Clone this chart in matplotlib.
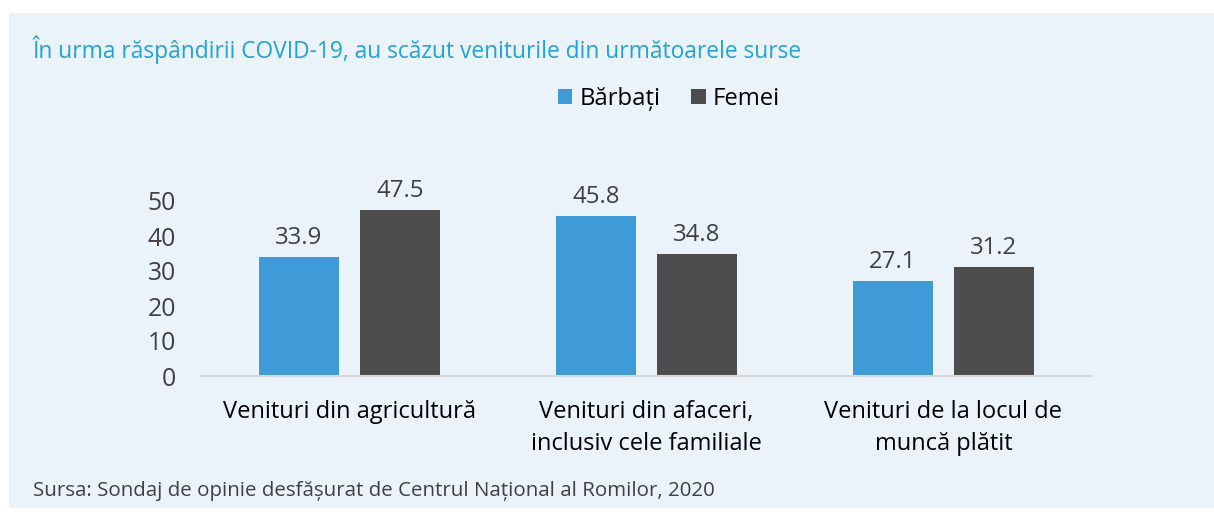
import matplotlib
matplotlib.use("Agg")
import matplotlib.pyplot as plt

categories = ["Venituri din agricultură", "Venituri din afaceri,\ninclusiv cele familiale", "Venituri de la locul de\nmuncă plătit"]
barbati = [33.9, 45.8, 27.1]
femei = [47.5, 34.8, 31.2]
series_names = ["Bărbați", "Femei"]
yticks = [0, 10, 20, 30, 40, 50]
title = "În urma răspândirii COVID-19, au scăzut veniturile din următoarele surse"
source = "Sursa: Sondaj de opinie desfășurat de Centrul Național al Romilor, 2020"

W, H = 1214, 515
BG = "#EAF2FA"
BLUE = "#3F9BD8"
DARK = "#4D4D4F"
TXT = "#404040"
plt.rcParams['font.family'] = ['Open Sans', 'DejaVu Sans']

fig = plt.figure(figsize=(W/100, H/100), dpi=100)
fig.patch.set_facecolor("white")
bg = fig.add_axes([9/W, 1-508/H, (W-9)/W, (508-13)/H], zorder=-10)
bg.set_facecolor(BG)
bg.set_xticks([]); bg.set_yticks([])
for s in bg.spines.values():
    s.set_visible(False)

ymax = 55
ax = fig.add_axes([201/W, 1-376/H, 891/W, (3.5*ymax)/H])
ax.set_facecolor("none")
x = list(range(len(categories)))
bw = 80/297
off = 50.5/297
b1 = ax.bar([i-off for i in x], barbati, bw, color=BLUE, label=series_names[0])
b2 = ax.bar([i+off for i in x], femei, bw, color=DARK, label=series_names[1])
for bars, vals in ((b1, barbati), (b2, femei)):
    for r, v in zip(bars, vals):
        ax.annotate(f"{v:.1f}", (r.get_x()+r.get_width()/2, v), xytext=(0, 5),
                    textcoords="offset points", ha="center", va="bottom",
                    fontsize=17.3, color=TXT)
ax.set_xlim(-0.5, 2.5)
ax.set_ylim(0, ymax)
ax.set_yticks(yticks)
ax.tick_params(axis='y', length=0, labelsize=17.8, labelcolor=TXT, pad=18)
ax.set_xticks(x)
ax.set_xticklabels(categories, fontsize=17, color="black", linespacing=1.45)
ax.tick_params(axis='x', length=0, pad=17)
for s in ["top", "right", "left"]:
    ax.spines[s].set_visible(False)
ax.spines["bottom"].set_color("#D9D9D9")
ax.spines["bottom"].set_linewidth(1.5)

fig.text(33/W, 1-50/H, title, fontsize=16.4, color="#22A2DC", va="center", ha="left")
fig.text(33/W, 1-491/H, source, fontsize=14.75, color=TXT, va="center", ha="left")

leg = fig.legend(handles=[b1, b2], loc="center", bbox_to_anchor=(669/W, 1-99/H), ncol=2,
                 frameon=False, fontsize=17.2, handlelength=0.6, handleheight=0.6,
                 handletextpad=0.3, columnspacing=1.3)
for t in leg.get_texts():
    t.set_color("black")

fig.savefig("out.png", dpi=100, facecolor="white")
